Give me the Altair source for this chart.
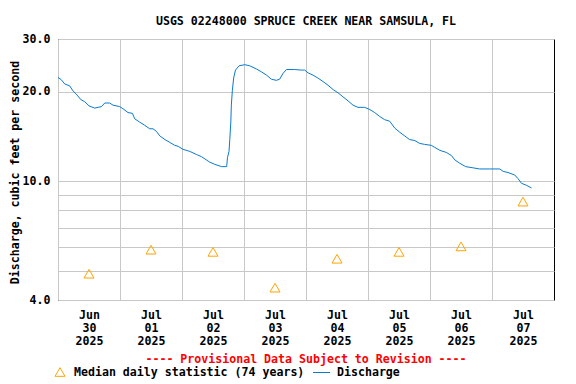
import altair as alt
import pandas as pd

# ---- data (hours since 2025-06-30 00:00, discharge in cfs) ----
hours = [0, 1.3, 2.6, 4.5, 5.8, 7.1, 8.8, 10.3, 12.0, 14.2, 16.8, 18.1, 20.0, 21.3,
         23.9, 25.2, 27.1, 28.8, 29.7, 31.6, 33.6, 35.5, 36.8, 38.1, 39.4, 41.4,
         43.3, 45.2, 46.5, 48.4, 51.0, 53.6, 55.5, 57.4, 58.7, 60.7, 63.3, 65.3,
         65.6, 66.2, 66.5, 66.9, 67.1, 67.5, 68.0, 68.7, 70.1, 72.3, 74.2, 76.8,
         78.7, 80.7, 82.6, 84.5, 85.8, 87.1, 88.4, 91.6, 94.2, 95.5, 96.8, 98.7,
         100.6, 102.6, 104.5, 106.5, 108.4, 110.3, 112.3, 114.2, 116.1, 118.7,
         120.7, 122.6, 124.5, 126.4, 128.4, 130.3, 132.3, 134.2, 136.1, 138.1,
         140.0, 141.9, 144.5, 145.8, 147.8, 150.3, 152.3, 153.6, 155.5, 157.8,
         160.6, 163.2, 167.1, 171.0, 172.3, 174.2, 176.8, 178.1, 179.4, 181.3, 183.3]
discharge = [22.3, 21.9, 21.2, 20.9, 20.1, 19.6, 18.8, 18.5, 17.9, 17.6, 17.8, 18.3, 18.3, 18.0,
             17.8, 17.5, 17.0, 16.9, 16.2, 15.8, 15.4, 15.0, 15.0, 14.7, 14.2, 13.8,
             13.5, 13.2, 13.1, 12.8, 12.6, 12.3, 12.1, 11.8, 11.6, 11.4, 11.2, 11.2,
             12.0, 12.6, 13.8, 15.8, 18.0, 20.2, 22.2, 23.6, 24.4, 24.6, 24.4, 23.8,
             23.3, 22.7, 22.0, 21.8, 22.0, 23.0, 23.7, 23.7, 23.6, 23.6, 23.1, 22.7,
             22.2, 21.6, 21.0, 20.3, 19.8, 19.2, 18.6, 18.0, 17.7, 17.7,
             17.4, 17.0, 16.5, 16.1, 15.9, 15.1, 14.6, 14.2, 13.8, 13.7,
             13.4, 13.3, 13.2, 13.0, 12.7, 12.5, 12.2, 11.8, 11.5, 11.2,
             11.1, 11.0, 11.0, 11.0, 10.8, 10.7, 10.5, 10.2, 9.85, 9.7, 9.5]

median_hours = [12, 36, 60, 84, 108, 132, 156, 180]
median_values = [4.9, 5.9, 5.8, 4.4, 5.5, 5.8, 6.05, 8.55]

day_labels = [["Jun", "30", "2025"], ["Jul", "01", "2025"], ["Jul", "02", "2025"],
              ["Jul", "03", "2025"], ["Jul", "04", "2025"], ["Jul", "05", "2025"],
              ["Jul", "06", "2025"], ["Jul", "07", "2025"]]
x_grid = [0, 24, 48, 72, 96, 120, 144, 168]
y_ticks = [4, 5, 6, 7, 8, 9, 10, 20, 30]
y_labeled = [4, 10, 20, 30]

title_text = "USGS 02248000 SPRUCE CREEK NEAR SAMSULA, FL"
y_title = "Discharge, cubic feet per second"
provisional = "---- Provisional Data Subject to Revision ----"
legend_median = "Median daily statistic (74 years)"
legend_flow = "Discharge"

FONT = "DejaVu Sans Mono"
FS = 11.6
BLUE = "#0a7acc"
ORANGE = "#ffa500"

flow = pd.DataFrame({"h": hours, "q": discharge})
med = pd.DataFrame({"h": median_hours, "q": median_values})

x_scale = alt.Scale(domain=[0, 192], nice=False, zero=False)
y_scale = alt.Scale(type="log", domain=[4, 30], nice=False)

label_js = "[" + ",".join("['%s','%s','%s']" % tuple(l) for l in day_labels) + "]"
ylab_js = "[" + ",".join(str(v) for v in y_labeled) + "]"

x_axis = alt.Axis(values=x_grid, grid=True, gridColor="#c8c8c8", gridWidth=1,
                  ticks=False, domain=False, labelOffset=31,
                  labelExpr=f"{label_js}[round(datum.value/24)]",
                  labelFont=FONT, labelFontWeight="bold", labelFontSize=FS,
                  labelColor="black", labelPadding=9, labelLineHeight=13,
                  labelOverlap=False, labelFlush=False, title=None)
y_axis = alt.Axis(values=y_ticks, grid=True, gridColor="#c8c8c8", gridWidth=1,
                  ticks=False, domain=False,
                  labelExpr=f"indexof({ylab_js}, datum.value) >= 0 ? format(datum.value, '.1f') : ''",
                  labelFont=FONT, labelFontWeight="bold", labelFontSize=FS,
                  labelColor="black", labelPadding=8, labelOverlap=False,
                  title=y_title, titleFont=FONT, titleFontWeight="bold",
                  titleFontSize=FS, titleColor="black", titleX=-43, titleY=133,
                  titleAlign="center", titleBaseline="middle", titleAngle=270)

line = alt.Chart(flow).mark_line(color=BLUE, strokeWidth=1, clip=True).encode(
    x=alt.X("h:Q", scale=x_scale, axis=x_axis),
    y=alt.Y("q:Q", scale=y_scale, axis=y_axis),
)
pts = alt.Chart(med).mark_point(shape="triangle-up", filled=False, color=ORANGE,
                                size=100, strokeWidth=1, opacity=1).encode(
    x=alt.X("h:Q", scale=x_scale),
    y=alt.Y("q:Q", scale=y_scale),
)

prov = alt.Chart(pd.DataFrame({"t": [provisional]})).mark_text(
    font=FONT, fontSize=FS, fontWeight="bold", color="#ff0000",
    align="center", baseline="middle").encode(
    x=alt.value(248), y=alt.value(321), text="t:N")
leg_tri = alt.Chart(pd.DataFrame({"t": [legend_median]})).mark_point(
    shape="triangle-up", filled=False, color=ORANGE, size=100, strokeWidth=1, opacity=1).encode(
    x=alt.value(2), y=alt.value(333))
leg_med = alt.Chart(pd.DataFrame({"t": [legend_median]})).mark_text(
    font=FONT, fontSize=FS, fontWeight="bold", color="black",
    align="left", baseline="middle").encode(
    x=alt.value(16), y=alt.value(334), text="t:N")
leg_line = alt.Chart(pd.DataFrame({"t": [legend_flow]})).mark_rule(
    color=BLUE, strokeWidth=1).encode(
    x=alt.value(255), x2=alt.value(272), y=alt.value(333.5))
leg_flow = alt.Chart(pd.DataFrame({"t": [legend_flow]})).mark_text(
    font=FONT, fontSize=FS, fontWeight="bold", color="black",
    align="left", baseline="middle").encode(
    x=alt.value(279), y=alt.value(334), text="t:N")

chart = alt.layer(line, pts, prov, leg_tri, leg_med, leg_line, leg_flow).properties(
    width=496, height=261,
    padding={"left": 50, "top": 31, "right": 14, "bottom": 84},
    autosize="none",
    title=alt.TitleParams(title_text, font=FONT, fontSize=FS, fontWeight="bold",
                          anchor="middle", offset=5, color="black"),
    background="white",
).configure_view(stroke="black", strokeWidth=1)

chart.save("out.html", embed_options={"renderer": "svg", "actions": False})
